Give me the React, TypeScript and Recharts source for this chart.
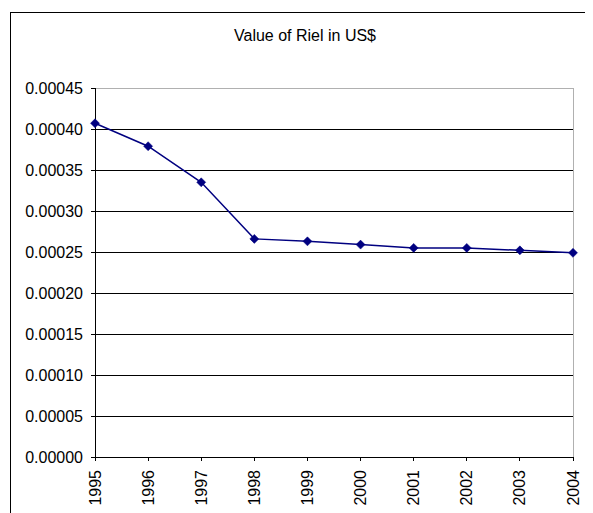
import React from "react";
import {
  LineChart,
  Line,
  XAxis,
  YAxis,
  CartesianGrid,
  ReferenceLine,
} from "recharts";

// Exchange value of one Cambodian riel, in US dollars
const years = ["1995", "1996", "1997", "1998", "1999", "2000", "2001", "2002", "2003", "2004"];
const rielInUsd = [0.000407, 0.000379, 0.000335, 0.000266, 0.000263, 0.000259, 0.000255, 0.000255, 0.000252, 0.000249];
const yTicks = [0, 0.00005, 0.0001, 0.00015, 0.0002, 0.00025, 0.0003, 0.00035, 0.0004, 0.00045];

const data = years.map((year, i) => ({ year, value: rielInUsd[i] }));

const FONT = "'Liberation Sans', Arial, sans-serif";

const Diamond = (props: any) => {
  const { cx, cy } = props;
  if (cx == null || cy == null) return null;
  const r = 4.5;
  return (
    <polygon
      points={`${cx},${cy - r} ${cx + r},${cy} ${cx},${cy + r} ${cx - r},${cy}`}
      fill="#000080"
      stroke="#000080"
      strokeWidth={0.5}
    />
  );
};

const YearTick = (props: any) => {
  const { x, y, payload } = props;
  return (
    <text
      x={x}
      y={y}
      transform={`rotate(-90, ${x}, ${y})`}
      textAnchor="end"
      dominantBaseline="central"
      fontFamily={FONT}
      fontSize={16}
      fill="#000"
    >
      {payload.value}
    </text>
  );
};

const ValueTick = (props: any) => {
  const { x, y, payload } = props;
  return (
    <text
      x={x}
      y={y}
      textAnchor="end"
      dominantBaseline="central"
      fontFamily={FONT}
      fontSize={16}
      fill="#000"
    >
      {Number(payload.value).toFixed(5)}
    </text>
  );
};

export default function App() {
  return (
    <div style={{ position: "relative", width: 585, height: 505, overflow: "hidden", background: "#fff" }}>
      <style>{`.riel-chart line { shape-rendering: crispEdges; }`}</style>
      <div
        style={{
          position: "absolute",
          left: 2,
          top: 4,
          width: 700,
          height: 700,
          border: "1px solid #000",
          boxSizing: "border-box",
        }}
      />
      <div
        style={{
          position: "absolute",
          left: 0,
          top: 19,
          width: 594,
          textAlign: "center",
          fontFamily: FONT,
          fontSize: 16,
          color: "#000",
        }}
      >
        Value of Riel in US$
      </div>
      <div style={{ position: "absolute", left: 0, top: 0 }}>
        <LineChart
          className="riel-chart"
          width={585}
          height={505}
          data={data}
          margin={{ top: 80, right: 20, bottom: 0, left: 0 }}
        >
          <CartesianGrid vertical={false} stroke="#000" strokeWidth={1} />
          <ReferenceLine y={0.00045} stroke="#b0b0b0" strokeWidth={1} />
          <ReferenceLine x="2004" stroke="#b0b0b0" strokeWidth={1} />
          <XAxis
            dataKey="year"
            height={56}
            interval={0}
            tickSize={4}
            tickMargin={9}
            axisLine={{ stroke: "#000" }}
            tickLine={{ stroke: "#000" }}
            tick={<YearTick />}
          />
          <YAxis
            width={87}
            domain={[0, 0.00045]}
            ticks={yTicks}
            interval={0}
            tickSize={4}
            tickMargin={8}
            axisLine={{ stroke: "#000" }}
            tickLine={{ stroke: "#000" }}
            tick={<ValueTick />}
          />
          <Line
            type="linear"
            dataKey="value"
            stroke="#000080"
            strokeWidth={1.5}
            dot={<Diamond />}
            activeDot={false}
            isAnimationActive={false}
          />
        </LineChart>
      </div>
    </div>
  );
}
